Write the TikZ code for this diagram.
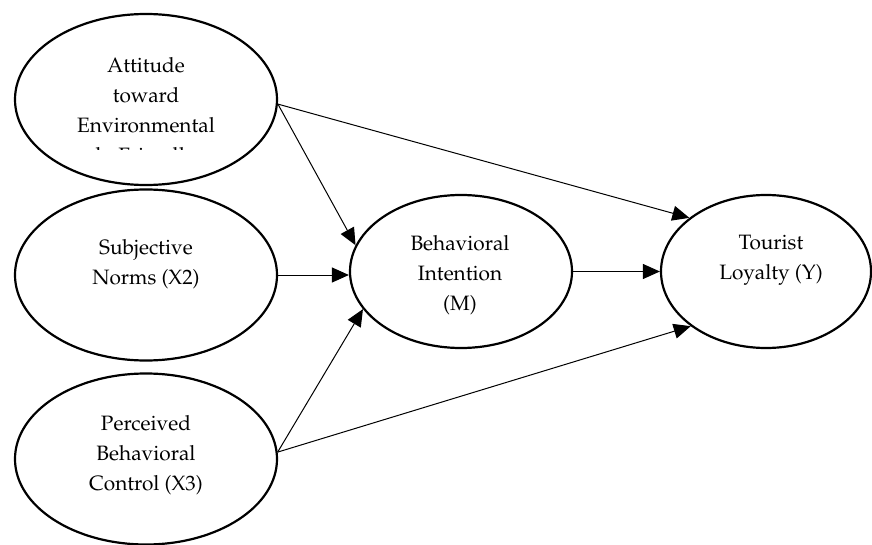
\documentclass[tikz,border=0pt]{standalone}
\usepackage[T1]{fontenc}
\usepackage{mathpazo}
\usepackage{tikz}
\usetikzlibrary{shapes}
\usetikzlibrary{arrows.meta}
\tikzset{
	construct/.style = {
		ellipse,
		draw=black,
		line width=1.1pt,
		inner sep=0pt
	},
	node_x/.style = {
		construct,
		minimum width=131pt,
		minimum height=85.5pt
	},
	node_m/.style = {
		construct,
		minimum width=111pt,
		minimum height=76.5pt
	},
	node_y/.style = {
		construct,
		minimum width=105pt,
		minimum height=76.5pt
	},
	node_txt/.style = {
		align=center,
		inner sep=0pt,
		text centered,
		font=\fontsize{10.4}{15}\selectfont,
		anchor=north
	},
}

\begin{document}
\begin{tikzpicture}[->,>={Triangle[length=8.5pt,width=7.5pt]}, x=0.5pt, y=-0.5pt, line width=0.5pt]
\useasboundingbox (0,0) rectangle (872,545);
% constructs
\node [node_x] (x1) at (146,99.5) {};
\node [node_x] (x2) at (146,275) {};
\node [node_x] (x3) at (146,459) {};
\node [node_m] (m) at (461,271.5) {};
\node [node_y] (y) at (766,271.5) {};
% texts
\begin{scope}
\clip (0,0) rectangle (872,150);
\node [node_txt] (x1_txt) at (146,57) {Attitude\\toward\\Environmental\\ly Friendly};
\end{scope}
\node [node_txt] (x2_txt) at (146,239) {Subjective\\Norms (X2)};
\node [node_txt] (x3_txt) at (146,415) {Perceived\\Behavioral\\Control (X3)};
\node [node_txt] (m_txt) at (460,235) {Behavioral\\Intention\\(M)};
\node [node_txt] (y_txt) at (771,235) {Tourist\\Loyalty (Y)};
% paths
\draw (x1.-2) -- (m.166);
\draw (x1.-2) -- (y.145);
\draw (x2.east) -- (x2.east -| m.west);
\draw (x3.3) -- (m.201);
\draw (x3.3) -- (y.216);
\draw (m.east) -- (m.east -| y.west);
\end{tikzpicture}
\end{document}
